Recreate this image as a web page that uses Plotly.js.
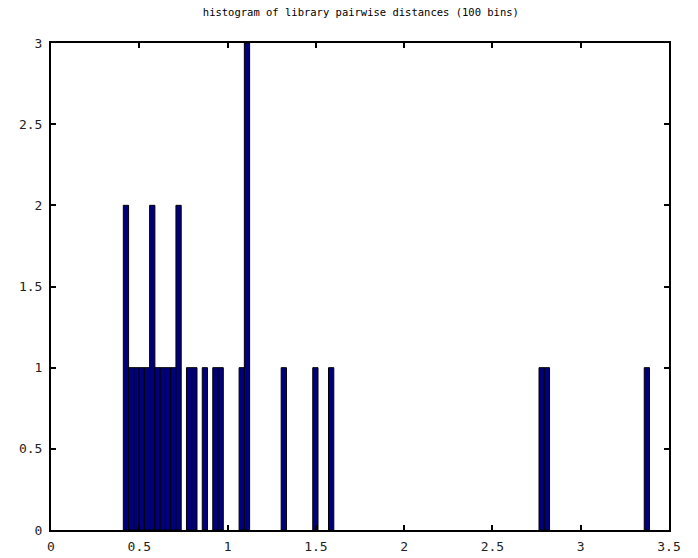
<!DOCTYPE html>
<html>
<head>
<meta charset="utf-8">
<script src="https://cdn.plot.ly/plotly-3.0.1.min.js"></script>
<style>html,body{margin:0;padding:0;background:#fff;}#chart{width:698px;height:558px;}</style>
</head>
<body>
<div id="chart"></div>
<script>
// pairwise distances (estimated from the histogram)
const distances = [
  0.4100, 0.4245, 0.4543, 0.4841, 0.5139, 0.5437, 0.5735, 0.5735,
  0.6033, 0.6331, 0.6629, 0.6927, 0.7225, 0.7225, 0.7821, 0.8119,
  0.8715, 0.9311, 0.9609, 1.0801, 1.1099, 1.1099, 1.1099, 1.3185,
  1.4973, 1.5867, 2.7787, 2.8085, 3.3890
];
const binStart = 0.4096;
const binEnd = 3.3896;
const nBins = 100;
const xTicks = [0, 0.5, 1, 1.5, 2, 2.5, 3, 3.5];
const xTickText = ['0', '0.5', '1', '1.5', '2', '2.5', '3', '3.5'];
const yTicks = [0, 0.5, 1, 1.5, 2, 2.5, 3];
const yTickText = ['0', '0.5', '1', '1.5', '2', '2.5', '3'];
const titleText = 'histogram of library pairwise distances (100 bins)';

const trace = {
  type: 'histogram',
  x: distances,
  autobinx: false,
  xbins: {start: binStart, end: binEnd + 1e-9, size: (binEnd - binStart) / nBins},
  marker: {color: '#00007f', line: {color: '#000000', width: 1}},
  hoverinfo: 'x+y'
};

const axisCommon = {
  showgrid: false,
  zeroline: false,
  showline: true,
  linecolor: '#000',
  linewidth: 2,
  mirror: 'ticks',
  ticks: 'inside',
  ticklen: 5,
  tickwidth: 2,
  tickcolor: '#000',
  tickfont: {family: 'DejaVu Sans Mono, monospace', size: 13, color: '#222'}
};

const layout = {
  width: 698,
  height: 558,
  margin: {l: 51, r: 29, t: 43, b: 28},
  paper_bgcolor: '#fff',
  plot_bgcolor: '#fff',
  showlegend: false,
  bargap: 0,
  title: {text: titleText, x: 0.517, xanchor: 'center', y: 0.984, yanchor: 'top',
          font: {family: 'DejaVu Sans Mono, monospace', size: 10.5, color: '#000'}},
  xaxis: Object.assign({}, axisCommon, {range: [0, 3.5], tickmode: 'array', tickvals: xTicks, ticktext: xTickText, ticklabelstandoff: 3}),
  yaxis: Object.assign({}, axisCommon, {range: [0, 3], tickmode: 'array', tickvals: yTicks, ticktext: yTickText, ticklabelstandoff: 4})
};

Plotly.newPlot('chart', [trace], layout, {displayModeBar: false, staticPlot: true});
</script>
</body>
</html>
